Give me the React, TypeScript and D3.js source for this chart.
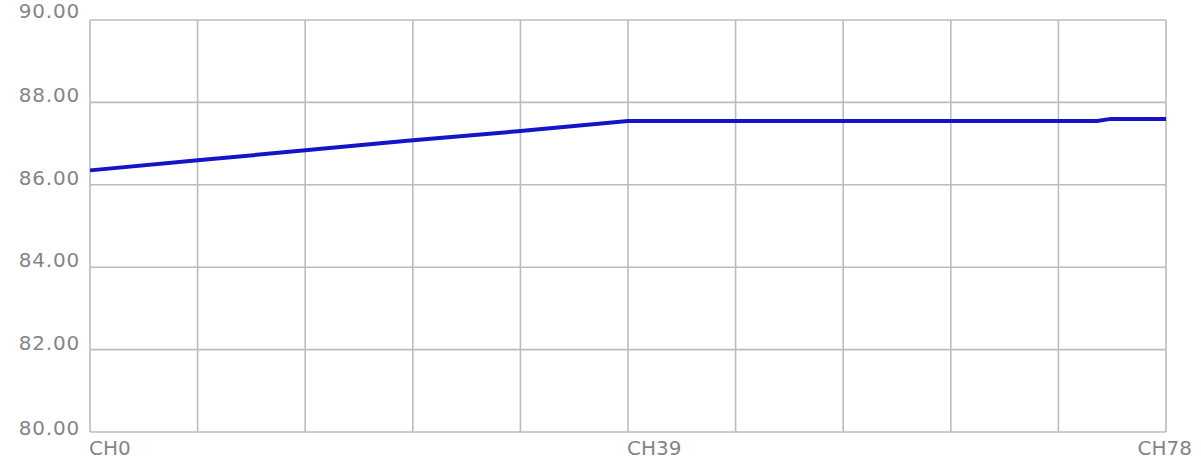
import React from "react";
import * as d3 from "d3";

const channels = [0, 8, 16, 23, 31, 39, 47, 55, 62, 70, 73, 74, 78];
const values = [86.35, 86.6, 86.85, 87.07, 87.3, 87.55, 87.55, 87.55, 87.55, 87.55, 87.55, 87.6, 87.6];
const yTicks = [80, 82, 84, 86, 88, 90];
const xGridCount = 10;
const xLabels = [
  { ch: 0, text: "CH0" },
  { ch: 39, text: "CH39" },
  { ch: 78, text: "CH78" },
];

const W = 1201;
const H = 469;
const left = 90;
const right = 1166;
const top = 20;
const bottom = 432;

export default function App() {
  const x = d3.scaleLinear().domain([0, 78]).range([left, right]);
  const y = d3.scaleLinear().domain([80, 90]).range([bottom, top]);
  const line = d3
    .line<number>()
    .x((_, i) => x(channels[i]))
    .y((v) => y(v));
  const gridX = d3.range(xGridCount + 1).map((i) => left + ((right - left) * i) / xGridCount);
  const textColor = "#858585";
  const font = "'DejaVu Sans', Verdana, sans-serif";
  return (
    <svg
      width={W}
      height={H}
      style={{ position: "absolute", left: 0, top: 0, background: "#fff" }}
    >
      {gridX.map((gx, i) => (
        <line key={"gx" + i} x1={gx} x2={gx} y1={top} y2={bottom} stroke="#bcbcbc" strokeWidth={1.6} />
      ))}
      {yTicks.map((t) => (
        <line key={"gy" + t} x1={left} x2={right} y1={y(t)} y2={y(t)} stroke="#bcbcbc" strokeWidth={1.6} />
      ))}
      {yTicks.map((t) => (
        <text
          key={"yl" + t}
          x={80}
          y={t === 90 ? y(t) - 2 : t === 80 ? y(t) + 3 : y(t)}
          textAnchor="end"
          fontFamily={font}
          fontSize={20}
          fill={textColor}
          letterSpacing={0.8}
        >
          {t.toFixed(2)}
        </text>
      ))}
      {xLabels.map((l) => (
        <text
          key={l.text}
          x={l.ch === 78 ? 1192 : x(l.ch) - 1}
          y={455}
          textAnchor={l.ch === 78 ? "end" : "start"}
          fontFamily={font}
          fontSize={20}
          fill={textColor}
        >
          {l.text}
        </text>
      ))}
      <path d={line(values) || ""} fill="none" stroke="#1414c8" strokeWidth={4} />
    </svg>
  );
}
